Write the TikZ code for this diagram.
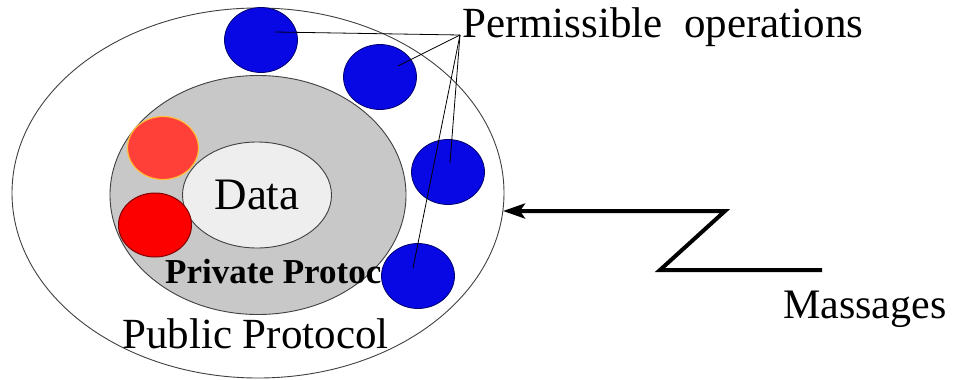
\documentclass[tikz,border=0pt]{standalone}
\usepackage{fontspec}
\setmainfont{Liberation Serif}
\usetikzlibrary{shapes.geometric,arrows.meta,calc}
\definecolor{opblue}{RGB}{8,8,228}
\definecolor{opedge}{RGB}{0,0,110}
\definecolor{redA}{RGB}{255,64,56}
\definecolor{redB}{RGB}{252,0,0}
\definecolor{protgray}{RGB}{200,200,200}
\definecolor{datagray}{RGB}{238,238,238}

\begin{document}
\begin{tikzpicture}[x=1pt,y=-1pt,
  ring/.style={ellipse,draw=black!75,line width=0.9pt,inner sep=0pt},
  opball/.style={ellipse,draw=opedge,fill=opblue,line width=0.8pt,minimum width=73pt,minimum height=65pt,inner sep=0pt},
  lbl/.style={anchor=base west,inner sep=0pt}]
\useasboundingbox (0,0) rectangle (953,380);

\node[ring,fill=white,minimum width=492pt,minimum height=370pt] (public) at (258,193) {};
\node[ring,fill=protgray,minimum width=296pt,minimum height=239pt] (private) at (258,195) {};
\node[ring,fill=datagray,minimum width=149pt,minimum height=106pt,font=\fontsize{45}{50}\selectfont] (data) at (257,195) {Data};
\node[ellipse,draw={rgb,255:red,255;green,190;blue,60},fill=redA,line width=1.2pt,minimum width=71pt,minimum height=63pt] (r1) at (163,148) {};
\node[ellipse,draw={rgb,255:red,130;green,0;blue,0},fill=redB,line width=1pt,minimum width=73pt,minimum height=64pt] (r2) at (155,225) {};
\node[lbl,font=\bfseries\fontsize{35}{40}\selectfont] (privlbl) at (165,283) {Private Protocol};

% operations
\node[opball] (b1) at (261,40) {};
\node[opball] (b2) at (380,77) {};
\node[opball] (b3) at (448,172) {};
\node[opball] (b4) at (418,276) {};

\node[lbl,font=\fontsize{43}{48}\selectfont] (perm) at (462,37) {Permissible\ \ operations};
\coordinate (pj) at (460,35);
\draw[line width=0.8pt] (pj) -- ($(b1.center)+(14,-8)$);
\draw[line width=0.8pt] (pj) -- ($(b2.center)+(18,-11)$);
\draw[line width=0.8pt] (pj) -- ($(b3.center)+(2,-9)$);
\draw[line width=0.8pt] (pj) -- ($(b4.center)+(-5,-8)$);

\node[lbl,font=\fontsize{43}{48}\selectfont] (publbl) at (122,348) {Public Protocol};

% message
\coordinate (zstart) at (822,270);
\coordinate (zlow) at (660,270);
\coordinate (zhigh) at (725,211);
\coordinate (hit) at (503,211);
\draw[line width=4pt,-{Stealth[length=22pt,width=15pt,inset=5pt]}] (zstart) -- (zlow) -- (zhigh) -- (hit);
\node[lbl,font=\fontsize{42}{48}\selectfont] (msg) at (783,318) {Massages};
\end{tikzpicture}
\end{document}
